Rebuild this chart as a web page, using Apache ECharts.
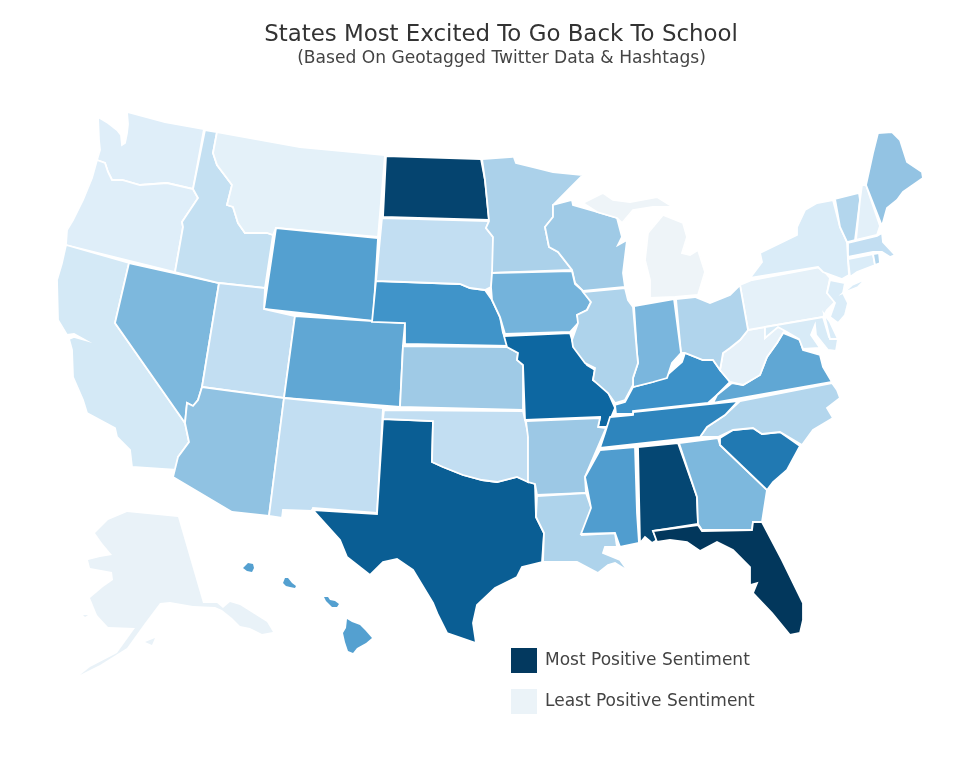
<!DOCTYPE html>
<html><head><meta charset="utf-8">
<style>html,body{margin:0;padding:0;background:#fff}#c{width:980px;height:767px}</style>
<script src="https://cdn.jsdelivr.net/npm/echarts@6/dist/echarts.min.js"></script>
</head><body><div id="c"></div>
<script>
const stateNames = ["Florida","North Dakota","Alabama","Texas","Missouri","South Carolina","Tennessee","Kentucky","Nebraska","Wyoming","Hawaii","Mississippi","Virginia","Colorado","Iowa","Indiana","Georgia","Nevada","Arkansas","Arizona","Maine","Kansas","Wisconsin","Minnesota","Illinois","Louisiana","Ohio","North Carolina","Vermont","Rhode Island","South Dakota","New Mexico","Oklahoma","Utah","Idaho","Massachusetts","California","New Jersey","Washington","Oregon","New York","Connecticut","Delaware","Maryland","New Hampshire","Montana","Pennsylvania","West Virginia","Michigan","Alaska"];
const sentiment = [100,96,95,88,85,79,75,71,70,65,65,66,62,62,57,55,54,54,44,48,47,43,43,38,37,37,36,35,35,35,29,29,29,29,28,29,20,17,15,15,17,17,17,18,11,10,9,8,0,5];
const rampColors = ["#eef4f8","#e0eff9","#c3dff2","#9fcae6","#74b3db","#3a90c7","#0b659f","#02375c"];
const titleText = "States Most Excited To Go Back To School";
const subtitleText = "(Based On Geotagged Twitter Data & Hashtags)";
const legendLabels = ["Most Positive Sentiment","Least Positive Sentiment"];
const borderlessStates = ["Alaska","Hawaii"];

// Outline geometry of the map region (base map, not chart data)
const outlines = {
"Washington":[[[98,117],[108,123],[117,130],[121,135],[122,145],[125,143],[127,133],[128,124],[127,112],[165,122],[204,129],[193,189],[167,183],[140,185],[122,180],[112,180],[108,172],[105,163],[97,160],[100,150],[99,140]]],
"Oregon":[[[97,160],[105,163],[108,172],[112,180],[122,180],[140,185],[167,183],[193,189],[198,198],[182,222],[183,227],[175,272],[66,245],[67,230],[73,220],[83,200],[92,178]]],
"California":[[[66,245],[129,263],[115,323],[185,423],[189,442],[178,457],[177,470],[132,467],[130,450],[117,437],[115,428],[87,413],[83,400],[73,377],[72,350],[69,339],[74,337],[85,340],[74,334],[67,335],[58,320],[57,280],[62,263]]],
"Nevada":[[[129,263],[219,283],[202,387],[198,400],[193,406],[187,403],[185,423],[115,323]]],
"Idaho":[[[205,130],[217,132],[213,153],[217,165],[232,185],[227,205],[233,207],[238,223],[245,233],[267,233],[273,235],[265,288],[219,283],[175,272],[183,227],[182,222],[198,198],[193,189]]],
"Montana":[[[217,132],[300,147],[385,155],[378,237],[276,228],[273,235],[267,233],[245,233],[238,223],[233,207],[227,205],[232,185],[217,165],[213,153]]],
"Wyoming":[[[276,228],[378,238],[373,321],[264,309]]],
"Utah":[[[219,283],[265,288],[264,309],[295,316],[284,398],[202,387]]],
"Colorado":[[[295,316],[405,323],[403,345],[400,407],[284,398]]],
"Arizona":[[[202,387],[284,398],[269,516],[232,512],[173,477],[178,457],[189,442],[185,423],[187,403],[193,406],[198,400]]],
"New Mexico":[[[284,398],[383,408],[377,513],[313,508],[312,511],[283,510],[282,518],[269,516]]],
"Texas":[[[383,419],[433,421],[432,462],[443,467],[463,475],[482,480],[497,482],[517,477],[535,484],[536,517],[544,533],[542,562],[522,567],[517,577],[495,588],[477,605],[473,623],[476,643],[447,633],[438,615],[433,603],[413,570],[397,559],[383,562],[370,575],[347,557],[340,540],[313,510],[377,514]]],
"Oklahoma":[[[384,410],[523,411],[528,433],[528,482],[517,477],[497,482],[482,480],[463,475],[443,467],[432,462],[433,421],[383,419]]],
"Kansas":[[[403,346],[507,347],[518,353],[517,360],[523,365],[523,410],[400,407]]],
"Nebraska":[[[376,281],[460,284],[470,288],[485,290],[492,300],[500,317],[503,333],[509,346],[405,344],[405,323],[372,322]]],
"South Dakota":[[[382,218],[489,221],[486,228],[493,237],[493,273],[491,287],[485,290],[470,288],[460,284],[376,281]]],
"North Dakota":[[[386,156],[481,159],[485,180],[487,200],[489,220],[383,217]]],
"Minnesota":[[[482,159],[512,157],[512,152],[516,163],[533,167],[553,172],[583,175],[570,188],[553,205],[553,217],[545,227],[549,247],[558,252],[572,270],[492,273],[493,237],[486,228],[489,221],[487,200],[485,180]]],
"Wisconsin":[[[553,205],[572,200],[573,205],[597,212],[617,218],[622,237],[618,245],[627,240],[623,273],[625,287],[583,291],[575,283],[572,270],[558,252],[549,247],[545,227],[553,217]]],
"Iowa":[[[492,273],[572,271],[575,284],[583,291],[591,302],[587,310],[577,315],[579,322],[570,332],[505,334],[500,317],[492,300],[491,287]]],
"Missouri":[[[504,336],[570,333],[573,343],[587,365],[595,370],[593,380],[607,390],[615,408],[607,427],[598,427],[600,417],[525,420],[523,365],[517,360],[518,353],[507,347]]],
"Arkansas":[[[526,421],[600,418],[598,427],[606,428],[585,477],[586,493],[537,495],[535,484],[528,482],[528,437]]],
"Louisiana":[[[537,496],[586,493],[592,510],[582,535],[615,533],[617,547],[605,547],[603,553],[620,560],[628,571],[615,563],[608,565],[598,573],[577,562],[543,562],[544,533],[536,517]]],
"Mississippi":[[[600,450],[635,447],[637,513],[639,543],[620,547],[615,533],[581,534],[591,508],[585,477]]],
"Alabama":[[[638,447],[678,443],[697,497],[698,524],[653,531],[657,540],[652,543],[645,537],[640,543]]],
"Georgia":[[[679,443],[718,438],[720,445],[767,490],[762,522],[753,522],[752,530],[702,530],[698,524],[697,497]]],
"Florida":[[[653,531],[698,525],[702,531],[752,530],[753,522],[762,522],[782,560],[803,603],[803,620],[800,633],[790,635],[772,613],[753,593],[757,583],[750,585],[750,567],[733,550],[717,542],[700,551],[687,542],[670,540],[657,542]]],
"South Carolina":[[[720,438],[733,430],[753,428],[762,434],[780,432],[800,446],[787,470],[773,482],[767,490],[720,445]]],
"North Carolina":[[[740,401],[832,383],[837,390],[840,398],[827,408],[833,418],[813,430],[802,445],[780,432],[762,434],[753,428],[733,430],[718,437],[700,437],[707,427],[725,415]]],
"Tennessee":[[[610,417],[633,415],[633,412],[738,401],[725,415],[707,427],[700,437],[600,448],[605,433]]],
"Kentucky":[[[616,414],[615,405],[625,402],[633,387],[653,382],[665,377],[682,362],[685,353],[703,360],[713,360],[720,370],[730,382],[717,395],[708,403],[633,411],[633,414]]],
"Virginia":[[[713,403],[717,395],[732,383],[743,385],[760,375],[767,357],[777,343],[783,333],[800,340],[803,350],[820,355],[823,367],[832,382]]],
"West Virginia":[[[748,330],[765,327],[765,338],[777,327],[787,328],[783,333],[777,343],[767,357],[760,375],[743,385],[730,382],[720,370],[723,353],[730,348],[740,340]]],
"Pennsylvania":[[[740,285],[752,280],[820,267],[830,278],[827,293],[835,302],[827,310],[823,317],[748,330]]],
"Maryland":[[[765,327],[823,317],[829,337],[838,339],[836,351],[828,350],[816,335],[815,325],[811,335],[820,348],[803,349],[799,339],[787,332],[778,327],[765,338]]],
"Delaware":[[[824,314],[830,322],[838,339],[830,339]]],
"New Jersey":[[[830,280],[845,283],[843,293],[848,303],[845,315],[838,323],[830,317],[835,303],[827,293]]],
"New York":[[[833,200],[817,203],[805,210],[797,227],[797,235],[760,253],[762,262],[750,278],[818,267],[823,272],[842,279],[849,275],[848,260],[847,242],[840,227]],[[843,293],[852,285],[866,279],[858,287]]],
"Vermont":[[[835,199],[859,193],[860,200],[855,240],[847,242],[840,227]]],
"New Hampshire":[[[862,185],[866,185],[880,226],[877,235],[856,240],[860,200]]],
"Maine":[[[866,185],[873,153],[878,133],[892,132],[900,140],[907,162],[922,172],[923,178],[903,192],[897,200],[887,208],[882,226]]],
"Massachusetts":[[[848,243],[877,236],[882,233],[883,242],[895,255],[890,257],[882,252],[873,252],[848,257]]],
"Connecticut":[[[848,259],[873,254],[875,265],[857,272],[850,277]]],
"Rhode Island":[[[873,254],[879,253],[880,263],[875,265]]],
"Ohio":[[[676,299],[695,297],[710,303],[730,295],[740,285],[748,330],[740,340],[730,348],[723,353],[720,370],[713,360],[703,360],[685,353],[681,353]]],
"Indiana":[[[634,306],[674,299],[681,353],[672,363],[667,378],[653,382],[633,387],[633,378],[638,363],[637,353]]],
"Illinois":[[[583,292],[625,288],[628,300],[633,307],[637,353],[638,363],[633,378],[633,385],[625,400],[615,403],[608,393],[593,380],[595,368],[585,363],[573,347],[572,340],[578,323],[577,315],[587,310],[591,302]]],
"Michigan":[[[650,298],[675,297],[698,295],[705,272],[698,250],[690,255],[682,253],[687,237],[683,223],[663,215],[648,233],[645,260],[650,280]],[[583,203],[603,193],[613,200],[630,202],[657,197],[673,207],[653,207],[633,210],[622,223],[617,218],[597,212]]],
"Alaska":[[[127,512],[178,517],[203,603],[217,603],[223,608],[230,602],[240,605],[267,622],[273,632],[262,634],[250,628],[240,626],[232,618],[222,610],[215,607],[193,606],[170,602],[160,603],[145,623],[127,648],[100,665],[80,675],[90,667],[117,653],[135,628],[108,627],[97,615],[90,598],[103,587],[113,580],[112,572],[90,568],[88,560],[100,557],[112,555],[102,543],[95,533],[108,520]],[[145,642],[155,638],[152,645]],[[83,615],[88,615],[85,617]]],
"Hawaii":[[[347,619],[352,622],[360,625],[365,630],[372,638],[366,643],[357,648],[353,653],[348,651],[345,642],[343,633],[346,628]],[[324,597],[328,597],[330,600],[335,601],[339,604],[337,607],[332,607],[328,603],[326,601]],[[285,578],[288,578],[292,583],[296,586],[295,588],[290,587],[286,586],[283,583]],[[248,563],[253,564],[254,568],[252,572],[247,571],[243,568]]]
};

const features = Object.keys(outlines).map(name => ({
  type:"Feature", properties:{name}, geometry:{type:"Polygon", coordinates:outlines[name]}
}));
echarts.registerMap("usa",{type:"FeatureCollection",features});

let xs=[],ys=[];
Object.values(outlines).forEach(rs=>rs.forEach(r=>r.forEach(p=>{xs.push(p[0]);ys.push(p[1]);})));
const minX=Math.min(...xs),maxX=Math.max(...xs),minY=Math.min(...ys),maxY=Math.max(...ys);

const chart = echarts.init(document.getElementById("c"),null,{renderer:"canvas"});
chart.setOption({
  animation:false,
  backgroundColor:"#fff",
  visualMap:{show:false,min:0,max:100,seriesIndex:0,inRange:{color:rampColors}},
  series:[{
    type:"map",map:"usa",roam:false,silent:true,
    projection:{project:p=>p,unproject:p=>p},
    left:minX,top:minY,width:maxX-minX,height:maxY-minY,
    label:{show:false},
    itemStyle:{borderColor:"#fff",borderWidth:1.8},
    emphasis:{disabled:true},select:{disabled:true},
    data:stateNames.map((n,i)=>({name:n,value:sentiment[i],itemStyle:borderlessStates.includes(n)?{borderWidth:0}:undefined}))
  }],
  graphic:[
    {type:"text",x:501,y:24,style:{text:titleText,font:"22.9px 'DejaVu Sans'",fill:"#333",textAlign:"center"}},
    {type:"text",x:501.5,y:50,style:{text:subtitleText,font:"17.1px 'DejaVu Sans'",fill:"#444",textAlign:"center"}},
    {type:"rect",left:511,top:648,shape:{width:26,height:25},style:{fill:"#03395f"}},
    {type:"rect",left:511,top:689,shape:{width:26,height:25},style:{fill:"#ebf3f8"}},
    {type:"text",left:545,top:652,style:{text:legendLabels[0],font:"17px 'DejaVu Sans'",fill:"#444"}},
    {type:"text",left:545,top:693,style:{text:legendLabels[1],font:"17px 'DejaVu Sans'",fill:"#444"}}
  ]
});
</script></body></html>
